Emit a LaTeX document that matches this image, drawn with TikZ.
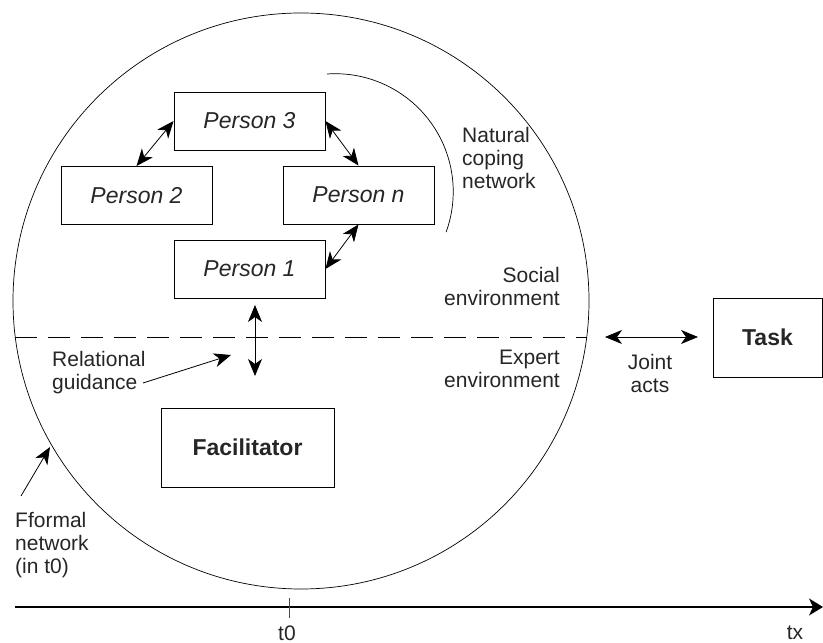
\documentclass[tikz,border=0pt]{standalone}
\usepackage{fontspec}
\setmainfont{Liberation Sans}
\usetikzlibrary{arrows.meta}
\begin{document}
\begin{tikzpicture}[x=1pt,y=1pt,
  >={Stealth[length=17pt,width=14pt,inset=5pt]},
  box/.style={draw, line width=0.9pt, inner sep=0pt, text=black!85},
  person/.style={box, minimum width=151pt, minimum height=58pt,
    font=\fontsize{23}{23}\selectfont\itshape},
  keybox/.style={box, minimum height=79pt,
    font=\fontsize{23}{23}\selectfont\bfseries},
  lbl/.style={font=\fontsize{21}{23}\selectfont, text=black!85, inner sep=0pt},
  link/.style={line width=0.8pt, <->},
  ptr/.style={line width=0.8pt, ->}
]
\useasboundingbox (0,0) rectangle (823,643);

% network circle and the boundary between the two environments
\coordinate (ctr) at (301,342);
\draw[line width=0.7pt] (ctr) circle[radius=288];
\coordinate (dl) at (15.2,306);
\coordinate (dr) at (586.8,306);
\draw[line width=0.8pt, dash pattern=on 22pt off 11pt] (dl) -- (dr);

% natural coping network arc
\coordinate (arcA) at (327,569);
\draw[line width=0.7pt] (arcA) arc[start angle=94, end angle=-20, radius=118];

% persons
\node[person] (p3) at (249.5,522) {Person 3};
\node[person] (p2) at (136.5,447.5) {Person 2};
\node[person] (pn) at (358.5,448) {Person \textit{n}};
\node[person] (p1) at (249.5,374) {Person 1};

\draw[link] (p3.west) -- (p2.north);
\draw[link] (p3.east) -- (pn.north);
\draw[link] (pn.south) -- (p1.east);

% facilitator and task
\node[keybox, minimum width=173pt] (fac) at (247.5,195.5) {Facilitator};
\node[keybox, minimum width=109pt] (task) at (767.5,305.5) {Task};

% relational guidance across the boundary
\coordinate (vt) at (255,338);
\coordinate (vb) at (255,267);
\draw[link] (vt) -- (vb);

% joint acts with the task
\coordinate (jl) at (605,306);
\coordinate (jr) at (698,306);
\draw[link] (jl) -- (jr);

% labels
\node[lbl, anchor=west, align=left] (nat) at (462,485) {Natural\\coping\\network};
\node[lbl, anchor=east, align=right] (soc) at (560,356.5) {Social\\environment};
\node[lbl, anchor=east, align=right] (exp) at (560,274) {Expert\\environment};
\node[lbl, anchor=west, align=left] (rel) at (52,270.5) {Relational\\guidance};
\node[lbl, align=center] (joint) at (650,269.5) {Joint\\acts};
\node[lbl, anchor=west, align=left] (ff) at (15,98) {Fformal\\network\\(in t0)};

\coordinate (relS) at (143,260);
\coordinate (relE) at (231,288);
\draw[ptr] (relS) -- (relE);

\coordinate (ffS) at (21,147);
\coordinate (ffE) at (50,196);
\draw[ptr] (ffS) -- (ffE);

% time axis
\coordinate (ax0) at (15,36);
\coordinate (ax1) at (823,36);
\draw[line width=1.2pt, -{Stealth[length=14pt,width=17pt,inset=4pt]}] (ax0) -- (ax1);
\coordinate (tk0) at (289,45);
\coordinate (tk1) at (289,25);
\draw[line width=0.8pt, black!70] (tk0) -- (tk1);
\node[lbl] (t0) at (287,10) {t0};
\node[lbl] (tx) at (795,10) {tx};
\end{tikzpicture}
\end{document}
